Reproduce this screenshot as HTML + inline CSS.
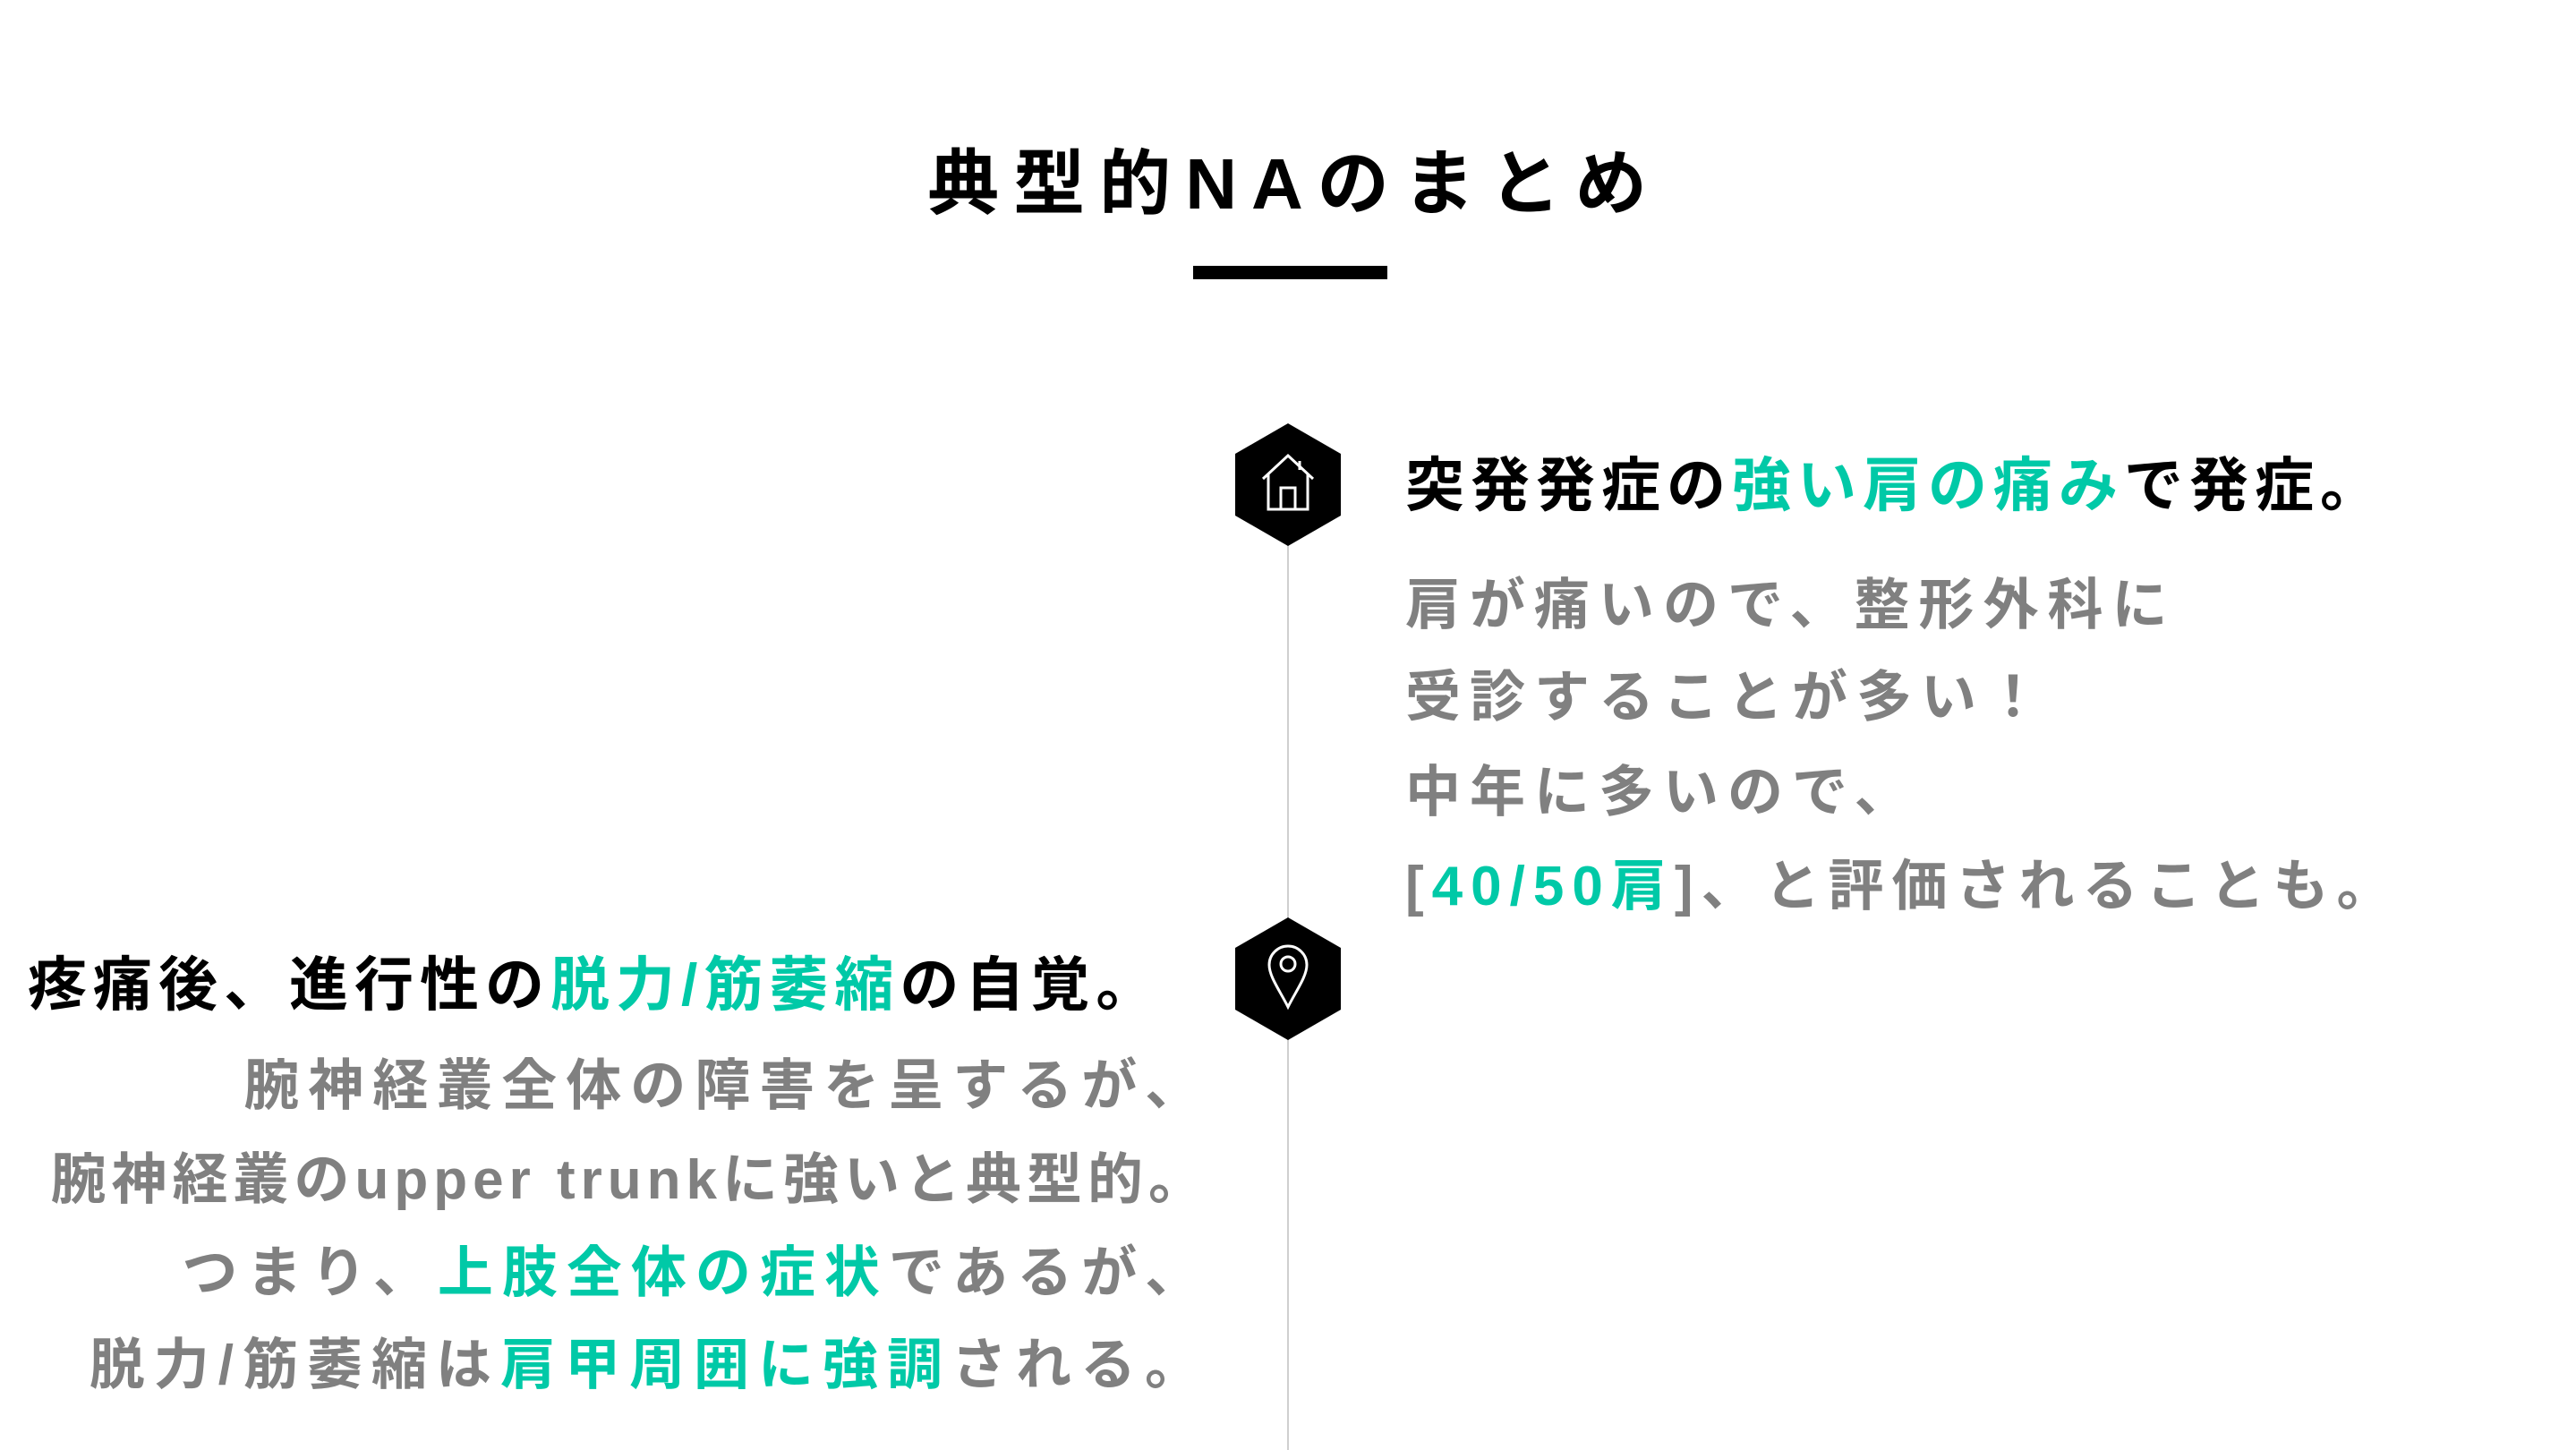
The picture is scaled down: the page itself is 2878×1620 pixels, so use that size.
<!DOCTYPE html>
<html><head><meta charset="utf-8"><style>
html,body{margin:0;padding:0;background:#fff;}
body{width:2878px;height:1620px;position:relative;overflow:hidden;font-family:"Liberation Sans","Noto Sans CJK JP",sans-serif;font-weight:bold;}
.t{position:absolute;white-space:nowrap;line-height:1;}
.g{color:#00c9a7;}
.h{font-size:66px;color:#000;letter-spacing:7px;}
.b{font-size:62px;color:#808080;letter-spacing:10px;}
</style></head><body>
<div class="t" style="left:7px;width:2878px;text-align:center;top:166px;font-size:80px;letter-spacing:16px;color:#000;">典型的NAのまとめ</div>
<div style="position:absolute;left:1333px;top:297px;width:217px;height:15px;background:#000;"></div>
<div style="position:absolute;left:1438px;top:600px;width:2px;height:1020px;background:#cfcfcf;"></div>
<svg style="position:absolute;left:1380px;top:473px" width="118" height="137" viewBox="0 0 118 137"><polygon points="59,0 118,34 118,103 59,137 0,103 0,34" fill="#000"/>
<g fill="none" stroke="#fff" stroke-width="3"><polyline points="31,62 59,36 87,62"/><polyline points="37,57 37,96 81,96 81,57"/><rect x="51" y="72" width="16" height="24"/><line x1="72" y1="42" x2="72" y2="52"/></g></svg>
<svg style="position:absolute;left:1380px;top:1025px" width="118" height="137" viewBox="0 0 118 137"><polygon points="59,0 118,34 118,103 59,137 0,103 0,34" fill="#000"/>
<g fill="none" stroke="#fff" stroke-width="3"><path d="M59,100 C50,82 38,66 38,53 A21,21 0 0 1 80,53 C80,66 68,82 59,100 Z"/><circle cx="59" cy="52" r="8"/></g></svg>
<div class="t h" style="left:1570px;top:509px;">突発発症の<span class="g">強い肩の痛み</span>で発症。</div>
<div class="t b" style="left:1570px;top:646px;">肩が痛いので、整形外科に</div>
<div class="t b" style="left:1570px;top:749px;">受診することが多い！</div>
<div class="t b" style="left:1570px;top:855px;">中年に多いので、</div>
<div class="t b" style="left:1570px;top:960px;letter-spacing:9px;">[<span class="g">40/50肩</span>]、と評価されることも。</div>
<div class="t h" style="left:31px;top:1067px;">疼痛後、進行性の<span class="g">脱力/筋萎縮</span>の自覚。</div>
<div class="t b" style="right:1527px;top:1183px;text-align:right;">腕神経叢全体の障害を呈するが、</div>
<div class="t b" style="right:1527px;top:1288px;text-align:right;letter-spacing:6px;">腕神経叢のupper trunkに強いと典型的。</div>
<div class="t b" style="right:1527px;top:1392px;text-align:right;">つまり、<span class="g">上肢全体の症状</span>であるが、</div>
<div class="t b" style="right:1527px;top:1495px;text-align:right;">脱力/筋萎縮は<span class="g">肩甲周囲に強調</span>される。</div>
</body></html>
